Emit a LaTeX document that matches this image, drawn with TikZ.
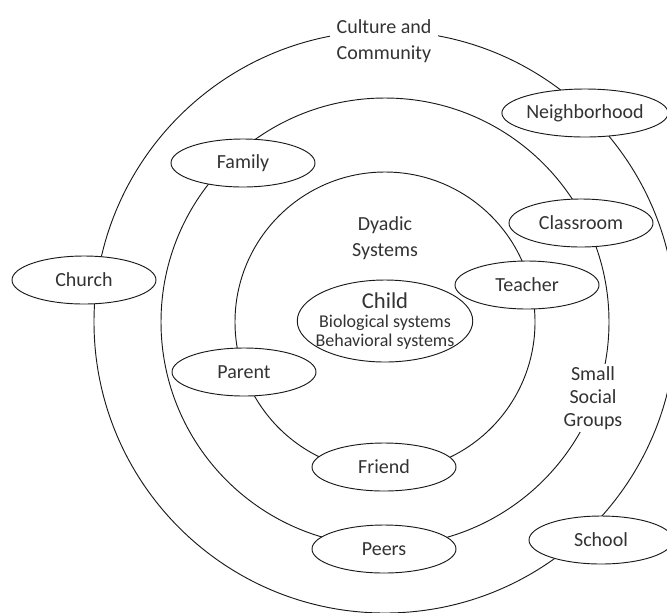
\documentclass[tikz,border=0pt]{standalone}
\usepackage{fontspec}
\setmainfont{Carlito}
\usetikzlibrary{shapes.geometric}
\definecolor{inkgray}{HTML}{333333}
\definecolor{linegray}{HTML}{1A1A1A}

\begin{document}
\begin{tikzpicture}[x=0.75pt,y=-0.75pt,
        ring/.style={draw=linegray,line width=0.7pt},
        place/.style={ellipse,draw=linegray,line width=0.7pt,fill=white,text=inkgray,
          minimum width=108pt,minimum height=36pt,inner sep=0pt,font=\fontsize{15}{18}\selectfont},
        ringlabel/.style={fill=white,text=inkgray,align=center,inner xsep=5pt,inner ysep=3pt,
          font=\fontsize{15}{19.5}\selectfont}]
        \useasboundingbox (0,0) rectangle (667,612);
        \coordinate (ctr) at (385,322);

        % the three rings
        \draw[ring] (ctr) circle [radius=218.25pt];
        \draw[ring] (ctr) circle [radius=168pt];
        \draw[ring] (ctr) circle [radius=112.5pt];

        % ring labels
        \node[ringlabel] (culture) at (384,41) {Culture and\\Community};
        \node[ringlabel,inner sep=2pt,font=\fontsize{15}{17}\selectfont] (groups) at (593,398) {Small\\Social\\Groups};
        \node[ringlabel,fill=none] (dyadic) at (385,238) {Dyadic\\Systems};

        % outer ring
        \node[place] (neighborhood) at (585,113) {Neighborhood};
        \node[place] (church) at (84,280) {Church};
        \node[place] (school) at (601,540) {School};
        % middle ring
        \node[place] (family) at (243,163) {Family};
        \node[place] (classroom) at (581,223) {Classroom};
        \node[place] (peers) at (384,549) {Peers};
        % inner ring
        \node[place] (teacher) at (527,285) {Teacher};
        \node[place] (parent) at (244,372) {Parent};
        \node[place] (friend) at (384,467) {Friend};

        \node[place,minimum width=131pt,minimum height=61.5pt,inner sep=-5.5pt,align=center,
          font=\fontsize{13.5}{14.5}\selectfont] (child) at (385,321)
          {{\fontsize{17}{17}\selectfont Child}\\Biological systems\\Behavioral systems};
\end{tikzpicture}
\end{document}
